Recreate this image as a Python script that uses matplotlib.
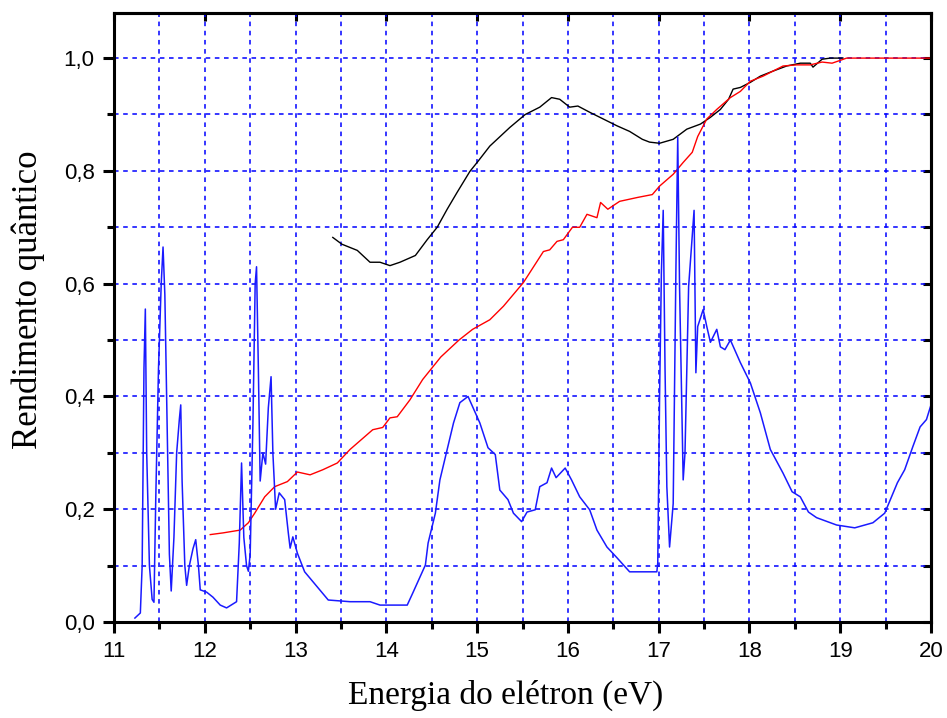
import matplotlib
matplotlib.use('Agg')
import matplotlib.pyplot as plt
from matplotlib.ticker import MultipleLocator, FuncFormatter

# === Dados ===
blue_x = [11.23, 11.29, 11.31, 11.33, 11.345, 11.36, 11.39, 11.42, 11.44, 11.46, 11.49, 11.52, 11.54,
          11.56, 11.58, 11.61, 11.63, 11.66, 11.69, 11.72, 11.735, 11.75, 11.78, 11.80, 11.83, 11.87,
          11.90, 11.93, 11.95, 12.02, 12.09, 12.17, 12.24, 12.35, 12.38, 12.405, 12.43, 12.46, 12.48,
          12.50, 12.53, 12.555, 12.57, 12.59, 12.61, 12.64, 12.67, 12.70, 12.73, 12.75, 12.78, 12.82,
          12.88, 12.92, 12.94, 12.97, 13.02, 13.10, 13.24, 13.36, 13.60, 13.82, 13.93, 14.23, 14.29,
          14.43, 14.46, 14.54, 14.59, 14.67, 14.74, 14.81, 14.90, 14.95, 15.03, 15.12, 15.20, 15.25,
          15.34, 15.40, 15.49, 15.55, 15.64, 15.69, 15.77, 15.82, 15.87, 15.97, 16.04, 16.13, 16.24,
          16.32, 16.43, 16.54, 16.68, 16.98, 16.99, 17.01, 17.03, 17.05, 17.07, 17.09, 17.12, 17.16,
          17.19, 17.21, 17.23, 17.27, 17.29, 17.33, 17.39, 17.41, 17.43, 17.49, 17.53, 17.57, 17.64,
          17.68, 17.73, 17.79, 17.90, 18.01, 18.12, 18.23, 18.37, 18.47, 18.56, 18.65, 18.74, 18.96,
          19.16, 19.36, 19.49, 19.63, 19.71, 19.80, 19.88, 19.95, 20.0]
blue_y = [0.007, 0.016, 0.10, 0.45, 0.555, 0.30, 0.10, 0.04, 0.035, 0.22, 0.45, 0.60, 0.665,
          0.58, 0.40, 0.12, 0.055, 0.15, 0.30, 0.36, 0.385, 0.25, 0.10, 0.065, 0.10, 0.13,
          0.146, 0.10, 0.057, 0.053, 0.044, 0.03, 0.025, 0.036, 0.14, 0.282, 0.15, 0.10, 0.09,
          0.12, 0.35, 0.60, 0.63, 0.45, 0.25, 0.30, 0.28, 0.38, 0.435, 0.30, 0.20, 0.229,
          0.217, 0.158, 0.131, 0.151, 0.122, 0.089, 0.062, 0.039, 0.036, 0.036, 0.030, 0.030, 0.051,
          0.101, 0.14, 0.193, 0.252, 0.306, 0.353, 0.389, 0.40, 0.382, 0.353, 0.309, 0.297, 0.234,
          0.217, 0.193, 0.178, 0.195, 0.199, 0.24, 0.247, 0.273, 0.256, 0.273, 0.252, 0.222, 0.199,
          0.163, 0.133, 0.114, 0.089, 0.089, 0.105, 0.40, 0.62, 0.73, 0.45, 0.24, 0.133, 0.21,
          0.625, 0.86, 0.595, 0.252, 0.30, 0.595, 0.73, 0.442, 0.524, 0.554, 0.524, 0.496, 0.519,
          0.488, 0.483, 0.50, 0.46, 0.424, 0.371, 0.306, 0.264, 0.231, 0.222, 0.195, 0.185, 0.172,
          0.167, 0.176, 0.193, 0.247, 0.27, 0.311, 0.346, 0.359, 0.385]

red_x = [12.06, 12.20, 12.39, 12.48, 12.55, 12.66, 12.77, 12.91, 13.02, 13.16, 13.30, 13.46, 13.60,
         13.85, 13.96, 14.04, 14.12, 14.26, 14.40, 14.60, 14.80, 14.95, 15.14, 15.29, 15.51, 15.73,
         15.80, 15.88, 15.95, 16.05, 16.13, 16.21, 16.32, 16.36, 16.44, 16.57, 16.77, 16.93, 17.01,
         17.16, 17.27, 17.37, 17.43, 17.53, 17.64, 17.79, 17.90, 18.01, 18.15, 18.26, 18.37, 18.52,
         18.67, 18.80, 18.91, 19.0, 19.07, 20.0]
red_y = [0.155, 0.158, 0.163, 0.176, 0.193, 0.222, 0.24, 0.249, 0.266, 0.261, 0.27, 0.282, 0.306,
         0.341, 0.345, 0.362, 0.364, 0.394, 0.43, 0.47, 0.50, 0.519, 0.536, 0.56, 0.602, 0.657,
         0.66, 0.675, 0.678, 0.70, 0.70, 0.723, 0.717, 0.744, 0.732, 0.746, 0.753, 0.758, 0.773,
         0.794, 0.815, 0.833, 0.861, 0.892, 0.909, 0.93, 0.941, 0.959, 0.968, 0.977, 0.986, 0.988,
         0.988, 0.993, 0.991, 0.996, 1.0, 1.0]

black_x = [13.41, 13.51, 13.68, 13.82, 13.93, 14.04, 14.15, 14.32, 14.45, 14.56, 14.67, 14.78, 14.92,
           15.01, 15.14, 15.36, 15.53, 15.69, 15.82, 15.91, 16.02, 16.11, 16.24, 16.39, 16.54, 16.68,
           16.82, 16.90, 17.01, 17.16, 17.31, 17.46, 17.57, 17.68, 17.77, 17.82, 17.90, 18.01, 18.12,
           18.26, 18.41, 18.56, 18.67, 18.70, 18.80, 18.89, 19.03]
black_y = [0.682, 0.67, 0.659, 0.638, 0.638, 0.632, 0.638, 0.65, 0.678, 0.70, 0.732, 0.762, 0.799,
           0.817, 0.844, 0.877, 0.90, 0.913, 0.93, 0.927, 0.913, 0.915, 0.904, 0.892, 0.88, 0.87,
           0.856, 0.851, 0.849, 0.856, 0.874, 0.883, 0.895, 0.909, 0.927, 0.945, 0.948, 0.957, 0.968,
           0.977, 0.986, 0.991, 0.991, 0.984, 0.998, 1.0, 1.0]

# === Figura ===
fig = plt.figure(figsize=(9.47, 7.18), dpi=100)
ax = fig.add_axes([0.1204, 0.1337, 0.8627, 0.8482])

ax.plot(black_x, black_y, color='black', lw=1.0)
ax.plot(red_x, red_y, color='#ff0000', lw=1.0)
ax.plot(blue_x, blue_y, color='#1a1aff', lw=1.1)

ax.set_xlim(11, 20)
ax.set_ylim(0, 1.08)

ax.xaxis.set_major_locator(MultipleLocator(1))
ax.xaxis.set_minor_locator(MultipleLocator(0.5))
ax.yaxis.set_major_locator(MultipleLocator(0.2))
ax.yaxis.set_minor_locator(MultipleLocator(0.1))
ax.yaxis.set_major_formatter(FuncFormatter(lambda v, p: f'{v:.1f}'.replace('.', ',')))

ax.grid(True, which='both', color='#0000ff', linestyle=(0, (3, 3)), lw=1.1)
ax.set_axisbelow(True)

for s in ax.spines.values():
    s.set_linewidth(2.2)

ax.tick_params(which='major', direction='out', length=8, width=2.2,
               labelsize=16, pad=6, top=False, right=False)
ax.tick_params(which='minor', direction='out', length=5, width=2.2, top=False, right=False)

# topo e direita com marcas para dentro
sec_x = ax.secondary_xaxis('top')
sec_x.set_xticks(range(11, 21))
sec_x.tick_params(direction='in', length=6, width=2.2)
sec_x.set_xticklabels([])
sec_y = ax.secondary_yaxis('right')
sec_y.set_yticks([i / 10 for i in range(0, 11)])
sec_y.tick_params(direction='in', length=6, width=2.2)
sec_y.set_yticklabels([])
for s in list(sec_x.spines.values()) + list(sec_y.spines.values()):
    s.set_linewidth(2.2)

for lbl in ax.get_xticklabels() + ax.get_yticklabels():
    lbl.set_family(['Liberation Sans', 'DejaVu Sans'])

ax.set_xlabel('Energia do elétron (eV)', family=['Liberation Serif', 'DejaVu Serif'], fontsize=24)
ax.set_ylabel('Rendimento quântico', family=['Liberation Serif', 'DejaVu Serif'], fontsize=25)
ax.xaxis.set_label_coords(0.479, -0.095)
ax.yaxis.set_label_coords(-0.085, 0.529)

fig.savefig('out.png', dpi=100)
